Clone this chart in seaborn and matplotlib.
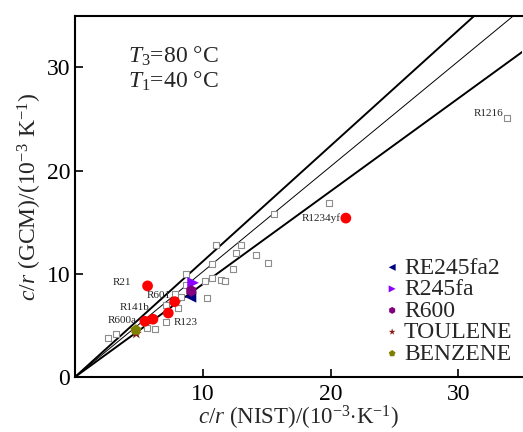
import numpy as np
import pandas as pd
import seaborn as sns
import matplotlib.pyplot as plt

sns.set_theme(style="ticks")
plt.rcParams['font.family'] = ['Liberation Serif', 'DejaVu Serif']
plt.rcParams['mathtext.fontset'] = 'custom'
plt.rcParams['mathtext.rm'] = 'Liberation Serif'
plt.rcParams['mathtext.it'] = 'Liberation Serif:italic'

# other working fluids (grey open squares)
other_nist = [2.55, 3.2, 5.65, 6.25, 7.1, 8.07, 7.16, 7.86, 8.3, 8.67, 8.67, 10.37,
              10.16, 10.75, 11.46, 11.77, 10.75, 12.37, 11.07, 12.63, 13.0, 14.14,
              15.13, 15.6, 19.87, 33.8]
other_gcm = [3.8, 4.2, 4.77, 4.65, 5.35, 6.7, 6.97, 8.0, 7.77, 10.03, 8.96, 7.67,
             9.33, 9.55, 9.4, 9.33, 11.0, 10.45, 12.83, 12.06, 12.78, 11.8,
             11.08, 15.75, 16.9, 25.1]

# labelled fluids (red circles)
red_names = ['R21', 'R601', 'R123', 'R141b', 'R600a', 'R1234yf']
red_nist = [5.68, 7.8, 7.3, 6.1, 5.47, 21.2]
red_gcm = [8.83, 7.3, 6.2, 5.6, 5.4, 15.4]

# legend fluids
leg_names = ['RE245fa2', 'R245fa', 'R600', 'TOULENE', 'BENZENE']
leg_nist = [9.04, 9.24, 9.1, 4.8, 4.77]
leg_gcm = [7.77, 9.13, 8.35, 4.2, 4.55]
leg_markers = ['<', '>', 'h', '*', 'p']
leg_colors = ['#000080', '#8B00FF', '#800080', '#8B1A1A', '#808000']

# reference lines y = k*x
slopes = [1.12, 1.02, 0.9]
line_widths = [1.4, 0.7, 1.4]

fig = plt.figure(figsize=(5.23, 4.32), dpi=100)
ax = fig.add_axes([0.1434, 0.1273, 0.855, 0.836])

for k, lw in zip(slopes, line_widths):
    sns.lineplot(x=[0, 40], y=[0, 40 * k], color='black', lw=lw, ax=ax)

sns.scatterplot(x=other_nist, y=other_gcm, marker='s', s=22, facecolor='white',
                edgecolor='#8c8c8c', linewidth=0.8, ax=ax, zorder=3)

red_df = pd.DataFrame({'nist': red_nist, 'gcm': red_gcm, 'name': red_names})
sns.scatterplot(data=red_df, x='nist', y='gcm', color='#ff0000', s=60,
                edgecolor='none', ax=ax, zorder=4)

for n, x, y, m, c in zip(leg_names, leg_nist, leg_gcm, leg_markers, leg_colors):
    sns.scatterplot(x=[x], y=[y], marker=m, color=c, s=70, edgecolor='none',
                    label=n, ax=ax, zorder=5)

# point labels
label_pos = {
    'R21': (131, 282, 'right'),
    'R601': (171, 295, 'right'),
    'R123': (174, 322, 'left'),
    'R141b': (150, 307, 'right'),
    'R600a': (137, 320, 'right'),
    'R1234yf': (341, 218, 'right'),
}
for name, (px, py, ha) in label_pos.items():
    ax.text((px - 75) / 12.8, (377 - py) / 10.33, name, fontsize=8, ha=ha,
            va='center')
ax.text((504 - 75) / 12.8, (377 - 113) / 10.33, 'R1216', fontsize=8, ha='right',
        va='center')

ax.text(0.118, 0.87, '$T_3$=80 °C', transform=ax.transAxes, fontsize=17)
ax.text(0.118, 0.80, '$T_1$=40 °C', transform=ax.transAxes, fontsize=17)

ax.set_xlim(0, 35)
ax.set_ylim(0, 35)
ax.set_xticks([10, 20, 30])
ax.set_yticks([0, 10, 20, 30])
ax.tick_params(direction='in', length=6, width=1.2, labelsize=17, colors='black')
ax.tick_params(axis='x', pad=5)
for s in ['left', 'bottom', 'top']:
    ax.spines[s].set_linewidth(1.5)
    ax.spines[s].set_color('black')
ax.spines['right'].set_visible(False)

ax.set_xlabel('$c/r$ (NIST)/(10$^{-3}$$\\cdot$K$^{-1}$)', fontsize=16.5, labelpad=-1)
ax.set_ylabel('$c/r$ (GCM)/(10$^{-3}$ K$^{-1}$)', fontsize=17, labelpad=2)

leg = ax.legend(loc='lower right', bbox_to_anchor=(1.01, -0.005), frameon=False,
                fontsize=17, handletextpad=0.05, labelspacing=0.0,
                handlelength=0.9, markerscale=0.6, borderaxespad=0.2)

fig.savefig('out.png', dpi=100)
